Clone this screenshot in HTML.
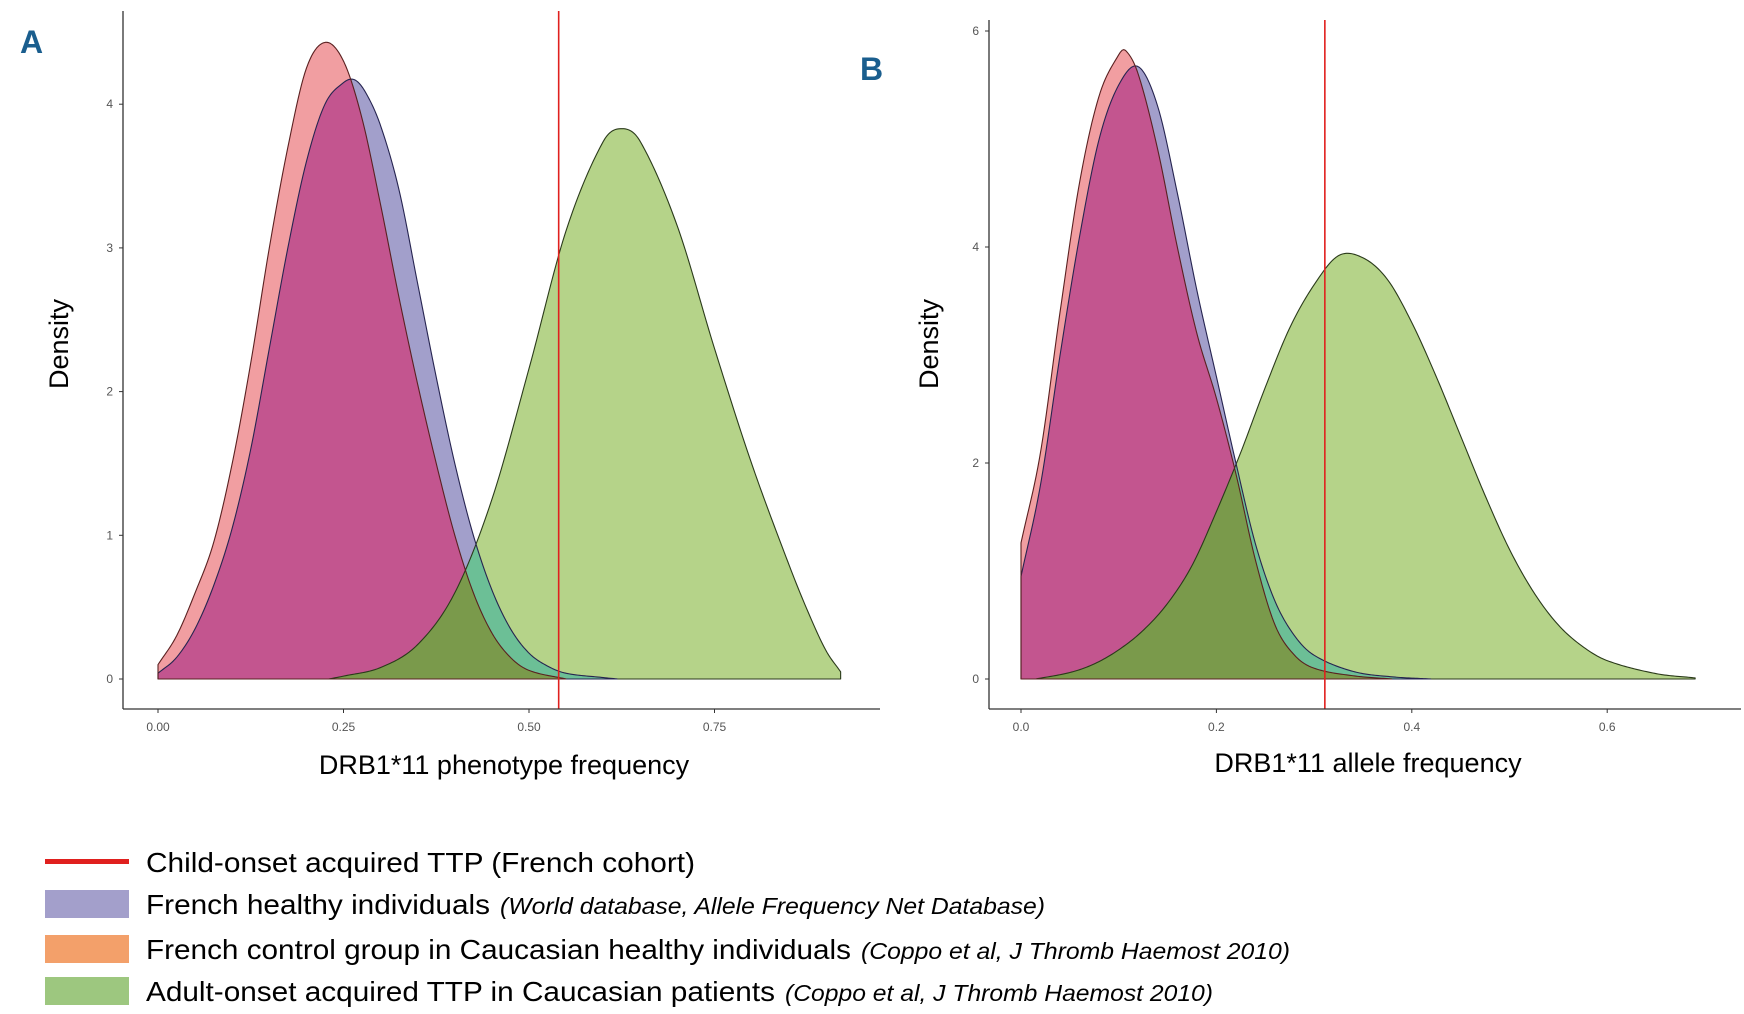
<!DOCTYPE html>
<html><head><meta charset="utf-8"><style>
html,body{margin:0;padding:0;background:#fff;}
svg{display:block;font-family:"Liberation Sans",sans-serif;}
</style></head><body>
<svg id="chart" width="1744" height="1014" viewBox="0 0 1744 1014"></svg>
<script>
// ---- Panel A data (phenotype frequency) ----
const aRedX = [0,.025,.05,.075,.1,.125,.15,.175,.2,.225,.25,.275,.3,.325,.35,.375,.4,.425,.45,.475,.5,.55];
const aRedY = [0.1,0.3,0.6,0.95,1.5,2.2,3.0,3.7,4.25,4.43,4.3,3.9,3.3,2.65,2.05,1.5,1.0,0.6,0.32,0.15,0.06,0];
const aBlueX = [0,.025,.05,.075,.1,.125,.15,.175,.2,.225,.25,.265,.28,.3,.325,.35,.375,.4,.425,.45,.475,.5,.525,.55,.6,.62];
const aBlueY = [0.04,0.15,0.35,0.65,1.05,1.6,2.3,3.0,3.6,4.0,4.15,4.17,4.08,3.85,3.4,2.75,2.1,1.5,1.0,0.62,0.35,0.18,0.09,0.04,0.01,0];
const aGreenX = [.23,.25,.3,.35,.4,.45,.5,.55,.6,.625,.65,.7,.75,.8,.85,.875,.9,.92];
const aGreenY = [0,0.02,0.08,0.24,0.6,1.25,2.16,3.12,3.74,3.83,3.74,3.15,2.3,1.5,0.8,0.48,0.2,0.05];
const aRefLine = 0.54;
const aXTicks = [0,0.25,0.5,0.75];
const aXTickLabels = ["0.00","0.25","0.50","0.75"];
const aYTicks = [0,1,2,3,4];
// ---- Panel B data (allele frequency) ----
const bRedX = [0,.02,.04,.06,.08,.1,.107,.12,.14,.16,.18,.2,.22,.24,.26,.28,.3,.34,.38];
const bRedY = [1.26,2.1,3.4,4.6,5.4,5.78,5.82,5.6,4.9,4.0,3.2,2.6,1.9,1.1,0.5,0.22,0.1,0.03,0];
const bBlueX = [0,.02,.04,.06,.08,.1,.12,.14,.16,.18,.2,.22,.24,.26,.28,.3,.34,.38,.42];
const bBlueY = [0.95,1.8,3.0,4.1,5.0,5.5,5.67,5.3,4.5,3.6,2.8,2.0,1.25,0.72,0.4,0.22,0.07,0.02,0];
const bGreenX = [.015,.05,.075,.1,.125,.15,.175,.2,.225,.25,.275,.3,.325,.35,.375,.4,.425,.45,.475,.5,.525,.55,.575,.6,.65,.69];
const bGreenY = [0,0.06,0.14,0.27,0.45,0.7,1.05,1.55,2.1,2.7,3.25,3.65,3.92,3.9,3.7,3.3,2.8,2.25,1.7,1.2,0.8,0.5,0.3,0.17,0.05,0.01];
const bRefLine = 0.311;
const bXTicks = [0,0.2,0.4,0.6];
const bXTickLabels = ["0.0","0.2","0.4","0.6"];
const bYTicks = [0,2,4,6];

const NS = "http://www.w3.org/2000/svg";
const svg = document.getElementById('chart');
function mk(tag, attrs, parent){
  const e = document.createElementNS(NS, tag);
  for (const k in attrs) e.setAttribute(k, attrs[k]);
  (parent||svg).appendChild(e);
  return e;
}
function interp(xs, ys, x){
  if (x < xs[0] - 1e-9 || x > xs[xs.length-1] + 1e-9) return 0;
  let i = 0;
  while (i < xs.length-2 && x > xs[i+1]) i++;
  const x0=xs[i], x1=xs[i+1], y0=ys[i], y1=ys[i+1];
  const h = x1-x0; const t = h>0 ? (x-x0)/h : 0;
  const m0 = i>0 ? (ys[i+1]-ys[i-1])/(xs[i+1]-xs[i-1]) : (y1-y0)/h;
  const m1 = i<xs.length-2 ? (ys[i+2]-ys[i])/(xs[i+2]-xs[i]) : (y1-y0)/h;
  const t2=t*t, t3=t2*t;
  const v = (2*t3-3*t2+1)*y0 + (t3-2*t2+t)*h*m0 + (-2*t3+3*t2)*y1 + (t3-t2)*h*m1;
  return Math.max(0, v);
}

function panel(cfg){
  const g = mk('g', {});
  
  
  const sx = v => cfg.x0 + (v - cfg.xmin) * cfg.kx;
  const sy = v => cfg.y0 - v * cfg.ky;
  const lo = Math.min(cfg.red.x[0], cfg.blue.x[0], cfg.green.x[0]);
  const hi = Math.max(cfg.red.x[cfg.red.x.length-1], cfg.blue.x[cfg.blue.x.length-1], cfg.green.x[cfg.green.x.length-1]);
  const N = 400; const grid = [];
  for (let i=0;i<=N;i++) grid.push(lo + (hi-lo)*i/N);
  const r = s => { const xs=[...grid]; s.x.forEach(v=>{ if(!xs.includes(v)) xs.push(v);}); return xs.sort((a,b)=>a-b); };
  function areaPath(fn, xs){
    let d = 'M'+sx(xs[0]).toFixed(2)+','+sy(0).toFixed(2);
    xs.forEach(x => { d += 'L'+sx(x).toFixed(2)+','+sy(fn(x)).toFixed(2); });
    d += 'L'+sx(xs[xs.length-1]).toFixed(2)+','+sy(0).toFixed(2)+'Z';
    return d;
  }
  const fR = x => interp(cfg.red.x, cfg.red.y, x);
  const fB = x => interp(cfg.blue.x, cfg.blue.y, x);
  const fG = x => interp(cfg.green.x, cfg.green.y, x);
  const all = r({x:[]});
  const layers = [
    ['green-density', x=>fG(x), '#b5d389'],
    ['blue-density', x=>fB(x), '#a29fcb'],
    ['red-density', x=>fR(x), '#f19ea1'],
    ['blue-green-overlap', x=>Math.min(fB(x),fG(x)), '#6cbf96'],
    ['red-blue-overlap', x=>Math.min(fR(x),fB(x)), '#c3558f'],
    ['all-overlap', x=>Math.min(fR(x),fB(x),fG(x)), '#7a9a4b']
  ];
  layers.forEach(L => {
    const p = mk('path', {d: areaPath(L[1], all), fill: L[2], stroke:'none'}, g);
    
    
  });
  [['green-outline',cfg.green,fG,'#2a3a1a'],['blue-outline',cfg.blue,fB,'#262450'],['red-outline',cfg.red,fR,'#5a2020']].forEach(o=>{
    const xs = r({x:[]}).filter(x=>x>=o[1].x[0]-1e-9 && x<=o[1].x[o[1].x.length-1]+1e-9);
    const p = mk('path', {d: areaPath(o[2], xs), fill:'none', stroke:o[3], 'stroke-width':1.1, 'stroke-linejoin':'round'}, g);
    
    
  });
  const ref = mk('line', {x1:sx(cfg.ref), x2:sx(cfg.ref), y1:cfg.top, y2:cfg.y1, stroke:'#e0201e', 'stroke-width':1.6}, g);
  
  
  const ya = mk('line', {x1:cfg.ax, x2:cfg.ax, y1:cfg.top, y2:cfg.y1, stroke:'#333', 'stroke-width':1.3}, g);
  
  
  const xa = mk('line', {x1:cfg.ax, x2:cfg.right, y1:cfg.y1, y2:cfg.y1, stroke:'#333', 'stroke-width':1.3}, g);
  
  
  cfg.yt.forEach(v => {
    mk('line', {x1:cfg.ax-4, x2:cfg.ax, y1:sy(v), y2:sy(v), stroke:'#333', 'stroke-width':1}, g);
    const t = mk('text', {x:cfg.ax-10, y:sy(v)+4, 'text-anchor':'end', 'font-size':12, fill:'#555'}, g);
    t.textContent = v;
    
    
  });
  cfg.xt.forEach((v,i) => {
    mk('line', {x1:sx(v), x2:sx(v), y1:cfg.y1, y2:cfg.y1+4, stroke:'#333', 'stroke-width':1}, g);
    const t = mk('text', {x:sx(v), y:cfg.y1+22, 'text-anchor':'middle', 'font-size':12, fill:'#555'}, g);
    t.textContent = cfg.xl[i];
    
    
  });
  const yt = mk('text', {x:0, y:0, transform:'translate('+cfg.ytx+','+cfg.yty+') rotate(-90)', 'text-anchor':'middle', 'font-size':27, fill:'#000'}, g);
  yt.textContent = 'Density';
  
  
  const xt = mk('text', {x:cfg.xtx, y:cfg.xty, 'text-anchor':'middle', 'font-size':27, fill:'#000'}, g);
  xt.textContent = cfg.xtitle;
  
  
  const lb = mk('text', {x:cfg.lx, y:cfg.ly, 'font-size':32, 'font-weight':'bold', fill:'#1a5e8e'}, g);
  lb.textContent = cfg.letter;
  
  
}

panel({name:'panel-a', xmin:0, x0:158, kx:742, y0:679, ky:143.7, ax:123, top:11, y1:709, right:880,
  red:{x:aRedX,y:aRedY}, blue:{x:aBlueX,y:aBlueY}, green:{x:aGreenX,y:aGreenY}, ref:aRefLine,
  xt:aXTicks, xl:aXTickLabels, yt:aYTicks, ytx:68, yty:344, xtx:504, xty:774,
  xtitle:'DRB1*11 phenotype frequency', letter:'A', lx:20, ly:53});
panel({name:'panel-b', xmin:0, x0:1021, kx:977, y0:679, ky:108, ax:989, top:20, y1:709, right:1741,
  red:{x:bRedX,y:bRedY}, blue:{x:bBlueX,y:bBlueY}, green:{x:bGreenX,y:bGreenY}, ref:bRefLine,
  xt:bXTicks, xl:bXTickLabels, yt:bYTicks, ytx:938, yty:344, xtx:1368, xty:772,
  xtitle:'DRB1*11 allele frequency', letter:'B', lx:860, ly:80});

// ---- Legend ----
const legend = mk('g', {});


const rows = [
  {y:862, kind:'line', color:'#e0201e', main:'Child-onset acquired TTP (French cohort)', mainEnd:695, it:'', itStart:0, itEnd:0},
  {y:904, kind:'box', color:'#a39fcb', main:'French healthy individuals', mainEnd:490, it:'(World database, Allele Frequency Net Database)', itStart:500, itEnd:1045},
  {y:949, kind:'box', color:'#f3a06a', main:'French control group in Caucasian healthy individuals', mainEnd:851, it:'(Coppo et al, J Thromb Haemost 2010)', itStart:861, itEnd:1290},
  {y:991, kind:'box', color:'#9dc77f', main:'Adult-onset acquired TTP in Caucasian patients', mainEnd:775, it:'(Coppo et al, J Thromb Haemost 2010)', itStart:785, itEnd:1213}
];
rows.forEach(r => {
  const e = mk('g', {}, legend);
  
  
  if (r.kind === 'line') mk('rect', {x:45, y:r.y-3, width:84, height:5, fill:r.color}, e);
  else mk('rect', {x:45, y:r.y-14, width:84, height:28, fill:r.color}, e);
  const t = mk('text', {x:146, y:r.y+10, 'font-size':28, fill:'#000', textLength:r.mainEnd-146, lengthAdjust:'spacingAndGlyphs'}, e);
  t.textContent = r.main;
  if (r.it) {
    const it = mk('text', {x:r.itStart, y:r.y+10, 'font-size':23, 'font-style':'italic', fill:'#000', textLength:r.itEnd-r.itStart, lengthAdjust:'spacingAndGlyphs'}, e);
    it.textContent = r.it;
  }
});
</script>
</body></html>
